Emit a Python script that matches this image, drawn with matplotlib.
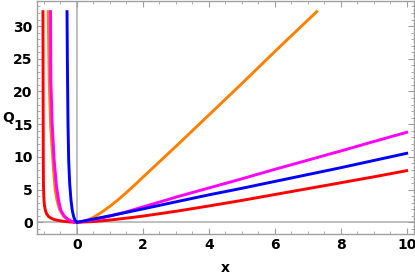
import matplotlib
matplotlib.use("Agg")
import matplotlib.pyplot as plt
from matplotlib.ticker import MultipleLocator

# Data
red_x = [-1.03, -1.025, -1.02, -1.015, -1.005, -0.99, -0.96, -0.92, -0.86, -0.79, -0.7, -0.6, -0.4, -0.2, 0.0,
         0.5, 1.0, 1.6, 2.0, 3.12, 4.0, 5.0, 6.0, 7.0, 7.67, 8.0, 9.0, 10.0]
red_y = [32.2, 20.0, 10.0, 6.0, 4.0, 2.8, 1.9, 1.3, 0.9, 0.65, 0.45, 0.32, 0.15, 0.05, 0.0,
         0.12, 0.35, 0.7, 0.95, 1.78, 2.5, 3.35, 4.25, 5.15, 5.75, 6.05, 6.95, 7.9]

orange_x = [-0.87, -0.855, -0.84, -0.8, -0.73, -0.66, -0.6, -0.53, -0.45, -0.38, -0.28, -0.2, -0.1, 0.0,
            0.25, 0.5, 0.75, 1.0, 1.25, 1.5, 1.75, 2.0, 2.5, 3.0, 4.0, 5.0, 6.0, 7.0, 7.27]
orange_y = [32.2, 27.0, 21.7, 15.0, 9.5, 5.0, 3.3, 2.0, 1.3, 0.8, 0.45, 0.2, 0.06, 0.0,
            0.2, 0.75, 1.55, 2.45, 3.45, 4.55, 5.7, 6.9, 9.25, 11.6, 16.4, 21.2, 26.1, 30.9, 32.2]

magenta_x = [-0.80, -0.795, -0.79, -0.75, -0.69, -0.62, -0.55, -0.49, -0.4, -0.3, -0.2, -0.1, 0.0,
             0.5, 1.0, 1.5, 2.0, 3.12, 4.0, 5.0, 6.0, 7.0, 7.67, 8.0, 9.0, 10.0]
magenta_y = [32.2, 27.0, 21.7, 15.0, 9.5, 5.5, 3.2, 1.9, 1.05, 0.55, 0.25, 0.07, 0.0,
             0.4, 0.95, 1.6, 2.35, 4.02, 5.25, 6.65, 8.1, 9.5, 10.45, 10.9, 12.35, 13.76]

blue_x = [-0.30, -0.29, -0.27, -0.25, -0.22, -0.18, -0.14, -0.10, -0.06, -0.03, 0.0,
          0.5, 1.0, 2.0, 3.12, 4.0, 5.0, 6.0, 7.0, 7.67, 8.0, 9.0, 10.0]
blue_y = [32.2, 25.0, 15.0, 9.5, 6.0, 3.4, 1.8, 0.9, 0.35, 0.1, 0.0,
          0.5, 1.0, 2.05, 3.26, 4.2, 5.2, 6.25, 7.3, 8.0, 8.35, 9.45, 10.55]

x_ticks = [0, 2, 4, 6, 8, 10]
y_ticks = [0, 5, 10, 15, 20, 25, 30]

fig = plt.figure(figsize=(4.15, 2.76), dpi=100)
ax = fig.add_axes([0.0884, 0.152, 0.909, 0.846])

ax.axhline(0, color="#b4b4b4", lw=1.2, zorder=1)
ax.axvline(0, color="#b4b4b4", lw=1.2, zorder=1)

ax.plot(red_x, red_y, color=(1, 0, 0), lw=2.1, zorder=3)
ax.plot(orange_x, orange_y, color=(1, 0.5, 0), lw=2.1, zorder=2)
ax.plot(magenta_x, magenta_y, color=(1, 0, 1), lw=2.1, zorder=3)
ax.plot(blue_x, blue_y, color=(0, 0, 1), lw=2.1, zorder=4)

ax.set_xlim(-1.22, 10.22)
ax.set_ylim(-1.79, 33.9)
ax.set_xticks(x_ticks)
ax.set_yticks(y_ticks)
ax.xaxis.set_minor_locator(MultipleLocator(0.5))
ax.yaxis.set_minor_locator(MultipleLocator(1))

for s in ax.spines.values():
    s.set_color("#a0a0a0")
    s.set_linewidth(1.0)

ax.tick_params(which="both", direction="in", top=True, right=True, color="#a0a0a0")
ax.tick_params(which="major", length=4, width=0.8, labelsize=10, pad=3)
ax.tick_params(which="minor", length=2, width=0.6)
for lab in ax.get_xticklabels() + ax.get_yticklabels():
    lab.set_fontweight("bold")

ax.set_xlabel("x", fontsize=10, fontweight="bold", labelpad=6)
fig.text(0.019, 0.572, "Q", fontsize=10, fontweight="bold", ha="center", va="center")

fig.savefig("out.png", dpi=100)
